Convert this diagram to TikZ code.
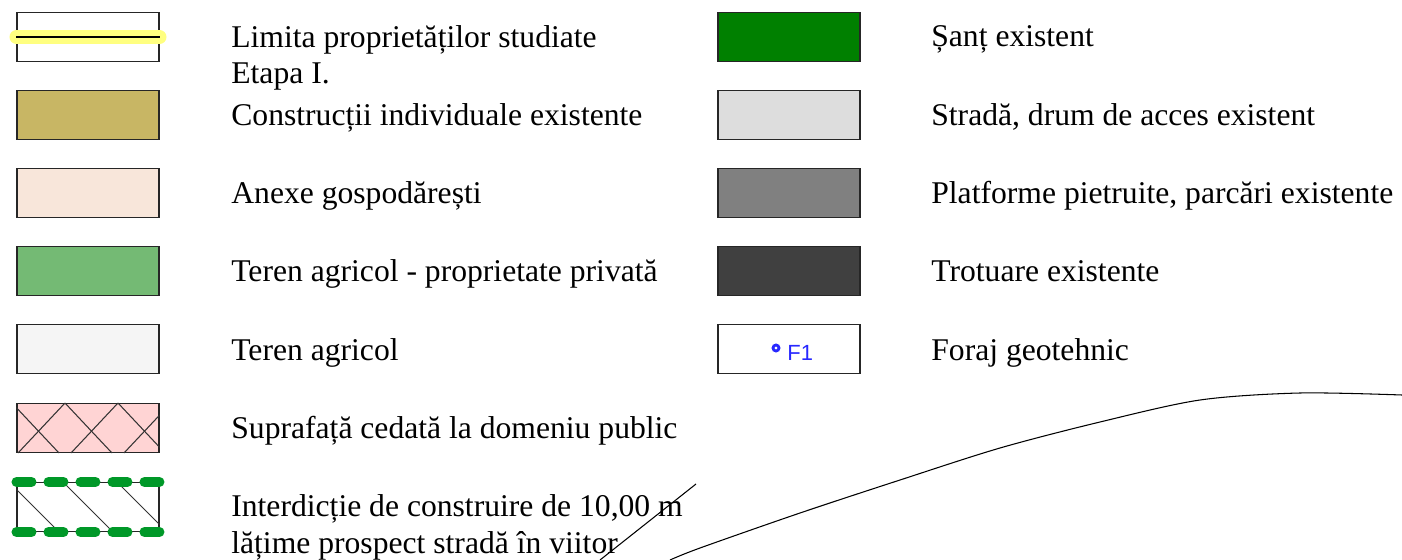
\documentclass[tikz,border=0pt]{standalone}
\usepackage{fontspec}
\setmainfont{Liberation Serif}
\setsansfont{Liberation Sans}
\usetikzlibrary{positioning}

\definecolor{limyellow}{RGB}{255,255,128}
\definecolor{constrcol}{RGB}{200,182,100}
\definecolor{anexecol}{RGB}{248,230,218}
\definecolor{privcol}{RGB}{116,186,116}
\definecolor{agricol}{RGB}{245,245,245}
\definecolor{cedcol}{RGB}{255,212,212}
\definecolor{santcol}{RGB}{0,128,0}
\definecolor{stradacol}{RGB}{221,221,221}
\definecolor{platcol}{RGB}{128,128,128}
\definecolor{trotcol}{RGB}{64,64,64}
\definecolor{interdcol}{RGB}{0,152,40}
\definecolor{forajcol}{RGB}{40,40,255}

\begin{document}
\begin{tikzpicture}[
    x=0.02cm, y=-0.02cm,
    swatch/.style={rectangle, draw=black!85, line width=0.6pt, minimum width=2.84cm, minimum height=0.98cm, inner sep=0pt},
    legtext/.style={anchor=base west, inner sep=0pt, align=left, font=\fontsize{18}{20.5}\selectfont},
    hatch/.style={line width=0.6pt, black!80},
    greendash/.style={interdcol, line width=0.2cm, line cap=round, dash pattern=on 0.3cm off 0.34cm}
  ]

  \useasboundingbox (0,0) rectangle (1402,560);

  % Left column
  \node[swatch] (lim_box) at (88,37) {};
  \draw[limyellow, line width=0.28cm, line cap=round] (lim_box.west) -- (lim_box.east);
  \draw[line width=0.6pt] (lim_box.west) -- (lim_box.east);
  \node[legtext] (lim_txt) at (231,84) {Limita proprietăților studiate\\Etapa I.};

  \node[swatch, fill=constrcol] (constr_box) at (88,115) {};
  \node[legtext] (constr_txt) at (231,126) {Construcții individuale existente};

  \node[swatch, fill=anexecol] (anexe_box) at (88,193) {};
  \node[legtext] (anexe_txt) at (231,204) {Anexe gospodărești};

  \node[swatch, fill=privcol] (priv_box) at (88,271) {};
  \node[legtext] (priv_txt) at (231,282) {Teren agricol - proprietate privată};

  \node[swatch, fill=agricol] (agri_box) at (88,349) {};
  \node[legtext] (agri_txt) at (231,360) {Teren agricol};

  % Ceded surface, cross hatched
  \node[swatch, fill=cedcol] (ced_box) at (88,428) {};
  \begin{scope}
    \clip (ced_box.south west) rectangle (ced_box.north east);
    \foreach \t in {12,65,118} {
        \draw[hatch] (\t,403) -- (\t+47,453);
      }
    \foreach \t in {65,118,171} {
        \draw[hatch] (\t,403) -- (\t-47,453);
      }
  \end{scope}
  \node[legtext] (ced_txt) at (231,438) {Suprafață cedată la domeniu public};

  % Building ban
  \node[swatch] (interd_box) at (88,507) {};
  \begin{scope}
    \clip (interd_box.south west) rectangle (interd_box.north east);
    \foreach \t in {9,63,117} {
        \draw[hatch] (\t,482) -- (\t+50,532);
      }
  \end{scope}
  \draw[greendash] (interd_box.north west) -- (interd_box.north east);
  \draw[greendash] (interd_box.south west) -- (interd_box.south east);
  \node[legtext] (interd_txt) at (231,553) {Interdicție de construire de 10,00 m\\lățime prospect stradă în viitor};

  % Right column
  \node[swatch, fill=santcol] (sant_box) at (789,37) {};
  \node[legtext] (sant_txt) at (931,47) {Șanț existent};

  \node[swatch, fill=stradacol] (strada_box) at (789,115) {};
  \node[legtext] (strada_txt) at (931,126) {Stradă, drum de acces existent};

  \node[swatch, fill=platcol] (plat_box) at (789,193) {};
  \node[legtext] (plat_txt) at (931,204) {Platforme pietruite, parcări existente};

  \node[swatch, fill=trotcol] (trot_box) at (789,271) {};
  \node[legtext] (trot_txt) at (931,282) {Trotuare existente};

  \node[swatch] (foraj_box) at (789,349) {};
  \draw[forajcol, line width=1.6pt] (776,348) circle (3);
  \node[font=\sffamily\fontsize{12.5}{14}\selectfont, text=forajcol, inner sep=0pt, anchor=west] (foraj_lbl) at (787,353) {F1};
  \node[legtext] (foraj_txt) at (931,360) {Foraj geotehnic};

  % Lines running off the sheet
  \draw[line width=0.6pt] (696,484) -- (600,560);
  \draw[line width=0.6pt] plot[smooth] coordinates {(670,560) (700,548) (800,513) (900,480) (1000,448) (1100,422) (1200,400) (1300,393) (1402,395)};

\end{tikzpicture}
\end{document}
